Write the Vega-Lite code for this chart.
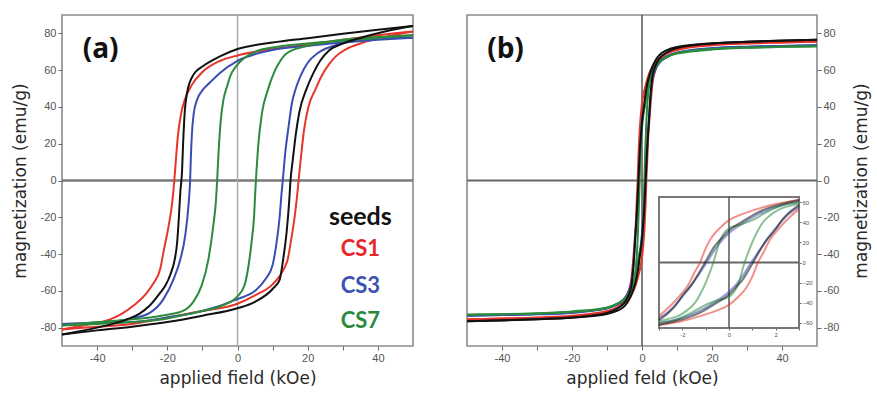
{
"$schema": "https://vega.github.io/schema/vega-lite/v6.json",
"padding": {"left": 10, "top": 13, "right": 5, "bottom": 5},
"config": {
 "view": {"stroke": "#8c8c8c", "strokeWidth": 1.6},
 "axis": {"grid": false, "domain": false, "tickColor": "#666", "tickSize": 4, "tickWidth": 1, "labelFont": "Liberation Sans", "labelFontSize": 11, "labelColor": "#555", "titleFont": "DejaVu Sans", "titleFontSize": 17, "titleFontWeight": "normal", "titleColor": "#2a2a2a", "labelOverlap": false, "labelFlush": false},
 "line": {"strokeWidth": 2}
},
"datasets": {
"a": [
{"s":"CS1","b":"d","H":50,"M":81},{"s":"CS1","b":"d","H":40,"M":79},{"s":"CS1","b":"d","H":30,"M":76.5},{"s":"CS1","b":"d","H":20,"M":74},{"s":"CS1","b":"d","H":10,"M":71.5},{"s":"CS1","b":"d","H":0,"M":68},{"s":"CS1","b":"d","H":-5,"M":65},{"s":"CS1","b":"d","H":-10,"M":59},{"s":"CS1","b":"d","H":-13,"M":52},{"s":"CS1","b":"d","H":-15,"M":44},{"s":"CS1","b":"d","H":-16,"M":37},{"s":"CS1","b":"d","H":-17,"M":24},{"s":"CS1","b":"d","H":-17.6,"M":10},{"s":"CS1","b":"d","H":-18,"M":0},{"s":"CS1","b":"d","H":-18.6,"M":-12},{"s":"CS1","b":"d","H":-19.6,"M":-24.5},{"s":"CS1","b":"d","H":-21,"M":-38},{"s":"CS1","b":"d","H":-22,"M":-48},{"s":"CS1","b":"d","H":-24,"M":-56},{"s":"CS1","b":"d","H":-25.8,"M":-61},{"s":"CS1","b":"d","H":-29.6,"M":-68},{"s":"CS1","b":"d","H":-33,"M":-72.5},{"s":"CS1","b":"d","H":-36.3,"M":-75.5},{"s":"CS1","b":"d","H":-43,"M":-78.5},{"s":"CS1","b":"d","H":-50,"M":-81},
{"s":"CS1","b":"u","H":-50,"M":-81},{"s":"CS1","b":"u","H":-40,"M":-79.5},{"s":"CS1","b":"u","H":-30,"M":-78},{"s":"CS1","b":"u","H":-20,"M":-74.5},{"s":"CS1","b":"u","H":-10,"M":-71},{"s":"CS1","b":"u","H":0,"M":-67},{"s":"CS1","b":"u","H":5,"M":-62.5},{"s":"CS1","b":"u","H":10,"M":-56.5},{"s":"CS1","b":"u","H":12,"M":-52},{"s":"CS1","b":"u","H":13.5,"M":-47},{"s":"CS1","b":"u","H":14.3,"M":-43},{"s":"CS1","b":"u","H":15.3,"M":-32},{"s":"CS1","b":"u","H":16.2,"M":-21},{"s":"CS1","b":"u","H":17,"M":-8},{"s":"CS1","b":"u","H":17.4,"M":0},{"s":"CS1","b":"u","H":18.2,"M":15},{"s":"CS1","b":"u","H":19,"M":28},{"s":"CS1","b":"u","H":20.2,"M":40},{"s":"CS1","b":"u","H":22.3,"M":50},{"s":"CS1","b":"u","H":24,"M":57},{"s":"CS1","b":"u","H":26,"M":63},{"s":"CS1","b":"u","H":28,"M":67.5},{"s":"CS1","b":"u","H":31,"M":71.5},{"s":"CS1","b":"u","H":35,"M":74.5},{"s":"CS1","b":"u","H":42,"M":78},{"s":"CS1","b":"u","H":50,"M":81},
{"s":"CS3","b":"d","H":50,"M":77.7},{"s":"CS3","b":"d","H":40,"M":76.5},{"s":"CS3","b":"d","H":30,"M":75},{"s":"CS3","b":"d","H":20,"M":73.2},{"s":"CS3","b":"d","H":10,"M":71},{"s":"CS3","b":"d","H":0,"M":65},{"s":"CS3","b":"d","H":-5,"M":58.5},{"s":"CS3","b":"d","H":-8,"M":53},{"s":"CS3","b":"d","H":-10,"M":49},{"s":"CS3","b":"d","H":-11.5,"M":44},{"s":"CS3","b":"d","H":-12.5,"M":36},{"s":"CS3","b":"d","H":-13,"M":25},{"s":"CS3","b":"d","H":-13.3,"M":12},{"s":"CS3","b":"d","H":-13.5,"M":0},{"s":"CS3","b":"d","H":-13.9,"M":-12},{"s":"CS3","b":"d","H":-14.9,"M":-30},{"s":"CS3","b":"d","H":-16.3,"M":-43},{"s":"CS3","b":"d","H":-18.3,"M":-54},{"s":"CS3","b":"d","H":-21.1,"M":-64.5},{"s":"CS3","b":"d","H":-25,"M":-72},{"s":"CS3","b":"d","H":-30,"M":-75},{"s":"CS3","b":"d","H":-35,"M":-76.5},{"s":"CS3","b":"d","H":-50,"M":-78},
{"s":"CS3","b":"u","H":-50,"M":-78},{"s":"CS3","b":"u","H":-40,"M":-77.5},{"s":"CS3","b":"u","H":-30,"M":-77},{"s":"CS3","b":"u","H":-20,"M":-74.5},{"s":"CS3","b":"u","H":-10,"M":-71},{"s":"CS3","b":"u","H":0,"M":-64.5},{"s":"CS3","b":"u","H":5,"M":-60},{"s":"CS3","b":"u","H":8,"M":-53.6},{"s":"CS3","b":"u","H":10,"M":-46},{"s":"CS3","b":"u","H":11,"M":-35.5},{"s":"CS3","b":"u","H":12,"M":-20},{"s":"CS3","b":"u","H":12.5,"M":-8},{"s":"CS3","b":"u","H":12.9,"M":0},{"s":"CS3","b":"u","H":13.6,"M":15},{"s":"CS3","b":"u","H":14.6,"M":30},{"s":"CS3","b":"u","H":15.5,"M":42},{"s":"CS3","b":"u","H":16.6,"M":50},{"s":"CS3","b":"u","H":18,"M":57},{"s":"CS3","b":"u","H":20,"M":64},{"s":"CS3","b":"u","H":23,"M":69.5},{"s":"CS3","b":"u","H":27,"M":73},{"s":"CS3","b":"u","H":32,"M":75.5},{"s":"CS3","b":"u","H":40,"M":77},{"s":"CS3","b":"u","H":50,"M":77.7},
{"s":"CS7","b":"d","H":50,"M":79},{"s":"CS7","b":"d","H":40,"M":77.5},{"s":"CS7","b":"d","H":30,"M":76},{"s":"CS7","b":"d","H":20,"M":74.5},{"s":"CS7","b":"d","H":10,"M":72.3},{"s":"CS7","b":"d","H":5,"M":70},{"s":"CS7","b":"d","H":0,"M":63},{"s":"CS7","b":"d","H":-2,"M":57},{"s":"CS7","b":"d","H":-3,"M":51},{"s":"CS7","b":"d","H":-4,"M":44},{"s":"CS7","b":"d","H":-4.8,"M":32},{"s":"CS7","b":"d","H":-5.4,"M":15},{"s":"CS7","b":"d","H":-5.8,"M":0},{"s":"CS7","b":"d","H":-6.1,"M":-10},{"s":"CS7","b":"d","H":-6.9,"M":-24.6},{"s":"CS7","b":"d","H":-8.3,"M":-43},{"s":"CS7","b":"d","H":-10.2,"M":-57},{"s":"CS7","b":"d","H":-12.6,"M":-66},{"s":"CS7","b":"d","H":-15.4,"M":-70.8},{"s":"CS7","b":"d","H":-20,"M":-73},{"s":"CS7","b":"d","H":-25,"M":-74.5},{"s":"CS7","b":"d","H":-40,"M":-77},{"s":"CS7","b":"d","H":-50,"M":-78.8},
{"s":"CS7","b":"u","H":-50,"M":-78.8},{"s":"CS7","b":"u","H":-40,"M":-78},{"s":"CS7","b":"u","H":-30,"M":-77},{"s":"CS7","b":"u","H":-20,"M":-75},{"s":"CS7","b":"u","H":-15,"M":-73},{"s":"CS7","b":"u","H":-10,"M":-71},{"s":"CS7","b":"u","H":-5,"M":-68.5},{"s":"CS7","b":"u","H":0,"M":-63},{"s":"CS7","b":"u","H":2,"M":-57},{"s":"CS7","b":"u","H":3,"M":-48},{"s":"CS7","b":"u","H":4,"M":-33.7},{"s":"CS7","b":"u","H":4.7,"M":-20},{"s":"CS7","b":"u","H":5.1,"M":-5},{"s":"CS7","b":"u","H":5.4,"M":5},{"s":"CS7","b":"u","H":5.9,"M":19},{"s":"CS7","b":"u","H":7,"M":37},{"s":"CS7","b":"u","H":8.6,"M":49},{"s":"CS7","b":"u","H":10.4,"M":58.7},{"s":"CS7","b":"u","H":11.4,"M":62.5},{"s":"CS7","b":"u","H":13.3,"M":67.9},{"s":"CS7","b":"u","H":15.2,"M":70.5},{"s":"CS7","b":"u","H":19,"M":72.8},{"s":"CS7","b":"u","H":25,"M":75},{"s":"CS7","b":"u","H":30,"M":76.5},{"s":"CS7","b":"u","H":40,"M":78},{"s":"CS7","b":"u","H":50,"M":79},
{"s":"other","b":"d","H":50,"M":84},{"s":"other","b":"d","H":40,"M":82},{"s":"other","b":"d","H":30,"M":79.8},{"s":"other","b":"d","H":20,"M":77.4},{"s":"other","b":"d","H":10,"M":75},{"s":"other","b":"d","H":0,"M":71.5},{"s":"other","b":"d","H":-5,"M":67.5},{"s":"other","b":"d","H":-10,"M":62},{"s":"other","b":"d","H":-12,"M":59},{"s":"other","b":"d","H":-13,"M":56},{"s":"other","b":"d","H":-14,"M":51},{"s":"other","b":"d","H":-14.6,"M":45},{"s":"other","b":"d","H":-15,"M":38},{"s":"other","b":"d","H":-15.5,"M":20},{"s":"other","b":"d","H":-15.8,"M":5},{"s":"other","b":"d","H":-16.3,"M":-6.5},{"s":"other","b":"d","H":-16.7,"M":-20},{"s":"other","b":"d","H":-17.2,"M":-33.7},{"s":"other","b":"d","H":-18,"M":-44},{"s":"other","b":"d","H":-19.1,"M":-51},{"s":"other","b":"d","H":-20.5,"M":-57},{"s":"other","b":"d","H":-22,"M":-61},{"s":"other","b":"d","H":-25,"M":-68},{"s":"other","b":"d","H":-28,"M":-72.5},{"s":"other","b":"d","H":-31.5,"M":-75.5},{"s":"other","b":"d","H":-40,"M":-80},{"s":"other","b":"d","H":-50,"M":-83.7},
{"s":"other","b":"u","H":-50,"M":-83.7},{"s":"other","b":"u","H":-40,"M":-81.5},{"s":"other","b":"u","H":-30,"M":-79.5},{"s":"other","b":"u","H":-20,"M":-77},{"s":"other","b":"u","H":-10,"M":-73.5},{"s":"other","b":"u","H":0,"M":-69.5},{"s":"other","b":"u","H":5,"M":-66},{"s":"other","b":"u","H":10,"M":-59},{"s":"other","b":"u","H":12,"M":-54},{"s":"other","b":"u","H":13,"M":-43},{"s":"other","b":"u","H":14,"M":-28},{"s":"other","b":"u","H":14.7,"M":-12},{"s":"other","b":"u","H":15.1,"M":0},{"s":"other","b":"u","H":15.8,"M":12},{"s":"other","b":"u","H":16.6,"M":25},{"s":"other","b":"u","H":17.6,"M":37},{"s":"other","b":"u","H":19.7,"M":50},{"s":"other","b":"u","H":21.5,"M":58},{"s":"other","b":"u","H":23.5,"M":65},{"s":"other","b":"u","H":26,"M":70.5},{"s":"other","b":"u","H":30,"M":74.5},{"s":"other","b":"u","H":35,"M":77.5},{"s":"other","b":"u","H":42,"M":81},{"s":"other","b":"u","H":50,"M":84}
],
"b": [
{"s":"CS1","b":"d","H":50,"M":75.5},{"s":"CS1","b":"d","H":40,"M":75},{"s":"CS1","b":"d","H":30,"M":74.5},{"s":"CS1","b":"d","H":20,"M":73.6},{"s":"CS1","b":"d","H":10,"M":71},{"s":"CS1","b":"d","H":7,"M":69},{"s":"CS1","b":"d","H":5,"M":66.5},{"s":"CS1","b":"d","H":4,"M":64.5},{"s":"CS1","b":"d","H":3,"M":62},{"s":"CS1","b":"d","H":2,"M":58},{"s":"CS1","b":"d","H":1.2,"M":53},{"s":"CS1","b":"d","H":0.5,"M":47.5},{"s":"CS1","b":"d","H":0,"M":42},{"s":"CS1","b":"d","H":-0.4,"M":34},{"s":"CS1","b":"d","H":-0.74,"M":25},{"s":"CS1","b":"d","H":-1,"M":14},{"s":"CS1","b":"d","H":-1.24,"M":0},{"s":"CS1","b":"d","H":-1.5,"M":-11},{"s":"CS1","b":"d","H":-1.74,"M":-22},{"s":"CS1","b":"d","H":-2,"M":-30},{"s":"CS1","b":"d","H":-2.3,"M":-38},{"s":"CS1","b":"d","H":-2.6,"M":-45},{"s":"CS1","b":"d","H":-3,"M":-53},{"s":"CS1","b":"d","H":-4,"M":-61},{"s":"CS1","b":"d","H":-5,"M":-65},{"s":"CS1","b":"d","H":-7,"M":-69},{"s":"CS1","b":"d","H":-10,"M":-71.5},{"s":"CS1","b":"d","H":-20,"M":-73.8},{"s":"CS1","b":"d","H":-30,"M":-74.7},{"s":"CS1","b":"d","H":-40,"M":-75.1},{"s":"CS1","b":"d","H":-50,"M":-75.5},
{"s":"CS1","b":"u","H":-50,"M":-75.5},{"s":"CS1","b":"u","H":-40,"M":-75},{"s":"CS1","b":"u","H":-30,"M":-74.5},{"s":"CS1","b":"u","H":-20,"M":-73.6},{"s":"CS1","b":"u","H":-10,"M":-71},{"s":"CS1","b":"u","H":-7,"M":-69},{"s":"CS1","b":"u","H":-5,"M":-66.5},{"s":"CS1","b":"u","H":-4,"M":-64.5},{"s":"CS1","b":"u","H":-3,"M":-62},{"s":"CS1","b":"u","H":-2,"M":-58},{"s":"CS1","b":"u","H":-1.2,"M":-53},{"s":"CS1","b":"u","H":-0.5,"M":-47.5},{"s":"CS1","b":"u","H":0,"M":-42},{"s":"CS1","b":"u","H":0.4,"M":-34},{"s":"CS1","b":"u","H":0.74,"M":-25},{"s":"CS1","b":"u","H":1,"M":-14},{"s":"CS1","b":"u","H":1.24,"M":0},{"s":"CS1","b":"u","H":1.5,"M":11},{"s":"CS1","b":"u","H":1.74,"M":22},{"s":"CS1","b":"u","H":2,"M":30},{"s":"CS1","b":"u","H":2.3,"M":38},{"s":"CS1","b":"u","H":2.6,"M":45},{"s":"CS1","b":"u","H":3,"M":53},{"s":"CS1","b":"u","H":4,"M":61},{"s":"CS1","b":"u","H":5,"M":65},{"s":"CS1","b":"u","H":7,"M":69},{"s":"CS1","b":"u","H":10,"M":71.5},{"s":"CS1","b":"u","H":20,"M":73.8},{"s":"CS1","b":"u","H":30,"M":74.7},{"s":"CS1","b":"u","H":40,"M":75.1},{"s":"CS1","b":"u","H":50,"M":75.5},
{"s":"CS3","b":"d","H":50,"M":73.5},{"s":"CS3","b":"d","H":40,"M":73.2},{"s":"CS3","b":"d","H":30,"M":72.6},{"s":"CS3","b":"d","H":20,"M":71.5},{"s":"CS3","b":"d","H":10,"M":69.5},{"s":"CS3","b":"d","H":7,"M":67.5},{"s":"CS3","b":"d","H":5,"M":65},{"s":"CS3","b":"d","H":4,"M":63},{"s":"CS3","b":"d","H":3,"M":60},{"s":"CS3","b":"d","H":2.26,"M":56.5},{"s":"CS3","b":"d","H":1.26,"M":48},{"s":"CS3","b":"d","H":0.6,"M":39},{"s":"CS3","b":"d","H":0,"M":29},{"s":"CS3","b":"d","H":-0.3,"M":22},{"s":"CS3","b":"d","H":-0.6,"M":13},{"s":"CS3","b":"d","H":-0.95,"M":0},{"s":"CS3","b":"d","H":-1.3,"M":-12},{"s":"CS3","b":"d","H":-1.6,"M":-22.5},{"s":"CS3","b":"d","H":-2,"M":-34},{"s":"CS3","b":"d","H":-2.3,"M":-42},{"s":"CS3","b":"d","H":-2.6,"M":-49},{"s":"CS3","b":"d","H":-3,"M":-55},{"s":"CS3","b":"d","H":-4,"M":-61},{"s":"CS3","b":"d","H":-5,"M":-64},{"s":"CS3","b":"d","H":-7,"M":-67},{"s":"CS3","b":"d","H":-10,"M":-69.5},{"s":"CS3","b":"d","H":-20,"M":-72},{"s":"CS3","b":"d","H":-30,"M":-72.8},{"s":"CS3","b":"d","H":-40,"M":-73.2},{"s":"CS3","b":"d","H":-50,"M":-73.5},
{"s":"CS3","b":"u","H":-50,"M":-73.5},{"s":"CS3","b":"u","H":-40,"M":-73.2},{"s":"CS3","b":"u","H":-30,"M":-72.6},{"s":"CS3","b":"u","H":-20,"M":-71.5},{"s":"CS3","b":"u","H":-10,"M":-69.5},{"s":"CS3","b":"u","H":-7,"M":-67.5},{"s":"CS3","b":"u","H":-5,"M":-65},{"s":"CS3","b":"u","H":-4,"M":-63},{"s":"CS3","b":"u","H":-3,"M":-60},{"s":"CS3","b":"u","H":-2.26,"M":-56.5},{"s":"CS3","b":"u","H":-1.26,"M":-48},{"s":"CS3","b":"u","H":-0.6,"M":-39},{"s":"CS3","b":"u","H":0,"M":-29},{"s":"CS3","b":"u","H":0.3,"M":-22},{"s":"CS3","b":"u","H":0.6,"M":-13},{"s":"CS3","b":"u","H":0.95,"M":0},{"s":"CS3","b":"u","H":1.3,"M":12},{"s":"CS3","b":"u","H":1.6,"M":22.5},{"s":"CS3","b":"u","H":2,"M":34},{"s":"CS3","b":"u","H":2.3,"M":42},{"s":"CS3","b":"u","H":2.6,"M":49},{"s":"CS3","b":"u","H":3,"M":55},{"s":"CS3","b":"u","H":4,"M":61},{"s":"CS3","b":"u","H":5,"M":64},{"s":"CS3","b":"u","H":7,"M":67},{"s":"CS3","b":"u","H":10,"M":69.5},{"s":"CS3","b":"u","H":20,"M":72},{"s":"CS3","b":"u","H":30,"M":72.8},{"s":"CS3","b":"u","H":40,"M":73.2},{"s":"CS3","b":"u","H":50,"M":73.5},
{"s":"CS7","b":"d","H":50,"M":73},{"s":"CS7","b":"d","H":40,"M":72.7},{"s":"CS7","b":"d","H":30,"M":72.2},{"s":"CS7","b":"d","H":20,"M":71.2},{"s":"CS7","b":"d","H":10,"M":69},{"s":"CS7","b":"d","H":7,"M":67},{"s":"CS7","b":"d","H":5,"M":64.5},{"s":"CS7","b":"d","H":4,"M":62.5},{"s":"CS7","b":"d","H":3,"M":60},{"s":"CS7","b":"d","H":2.26,"M":56.7},{"s":"CS7","b":"d","H":1.54,"M":49},{"s":"CS7","b":"d","H":1,"M":42},{"s":"CS7","b":"d","H":0.5,"M":37.5},{"s":"CS7","b":"d","H":0,"M":34},{"s":"CS7","b":"d","H":-0.39,"M":21.7},{"s":"CS7","b":"d","H":-0.67,"M":0},{"s":"CS7","b":"d","H":-0.96,"M":-18},{"s":"CS7","b":"d","H":-1.2,"M":-30},{"s":"CS7","b":"d","H":-1.46,"M":-40},{"s":"CS7","b":"d","H":-1.8,"M":-47.5},{"s":"CS7","b":"d","H":-2.17,"M":-53},{"s":"CS7","b":"d","H":-2.6,"M":-56},{"s":"CS7","b":"d","H":-3,"M":-58},{"s":"CS7","b":"d","H":-4,"M":-62},{"s":"CS7","b":"d","H":-5,"M":-64.5},{"s":"CS7","b":"d","H":-7,"M":-67},{"s":"CS7","b":"d","H":-10,"M":-69.3},{"s":"CS7","b":"d","H":-20,"M":-71.5},{"s":"CS7","b":"d","H":-30,"M":-72.3},{"s":"CS7","b":"d","H":-40,"M":-72.7},{"s":"CS7","b":"d","H":-50,"M":-73},
{"s":"CS7","b":"u","H":-50,"M":-73},{"s":"CS7","b":"u","H":-40,"M":-72.7},{"s":"CS7","b":"u","H":-30,"M":-72.2},{"s":"CS7","b":"u","H":-20,"M":-71.2},{"s":"CS7","b":"u","H":-10,"M":-69},{"s":"CS7","b":"u","H":-7,"M":-67},{"s":"CS7","b":"u","H":-5,"M":-64.5},{"s":"CS7","b":"u","H":-4,"M":-62.5},{"s":"CS7","b":"u","H":-3,"M":-60},{"s":"CS7","b":"u","H":-2.26,"M":-56.7},{"s":"CS7","b":"u","H":-1.54,"M":-49},{"s":"CS7","b":"u","H":-1,"M":-42},{"s":"CS7","b":"u","H":-0.5,"M":-37.5},{"s":"CS7","b":"u","H":0,"M":-34},{"s":"CS7","b":"u","H":0.39,"M":-21.7},{"s":"CS7","b":"u","H":0.67,"M":0},{"s":"CS7","b":"u","H":0.96,"M":18},{"s":"CS7","b":"u","H":1.2,"M":30},{"s":"CS7","b":"u","H":1.46,"M":40},{"s":"CS7","b":"u","H":1.8,"M":47.5},{"s":"CS7","b":"u","H":2.17,"M":53},{"s":"CS7","b":"u","H":2.6,"M":56},{"s":"CS7","b":"u","H":3,"M":58},{"s":"CS7","b":"u","H":4,"M":62},{"s":"CS7","b":"u","H":5,"M":64.5},{"s":"CS7","b":"u","H":7,"M":67},{"s":"CS7","b":"u","H":10,"M":69.3},{"s":"CS7","b":"u","H":20,"M":71.5},{"s":"CS7","b":"u","H":30,"M":72.3},{"s":"CS7","b":"u","H":40,"M":72.7},{"s":"CS7","b":"u","H":50,"M":73},
{"s":"other","b":"d","H":50,"M":76.5},{"s":"other","b":"d","H":40,"M":76.1},{"s":"other","b":"d","H":30,"M":75.5},{"s":"other","b":"d","H":20,"M":74.6},{"s":"other","b":"d","H":10,"M":72.6},{"s":"other","b":"d","H":7,"M":70.8},{"s":"other","b":"d","H":5,"M":68.3},{"s":"other","b":"d","H":4,"M":65.8},{"s":"other","b":"d","H":3,"M":62},{"s":"other","b":"d","H":2.26,"M":58},{"s":"other","b":"d","H":1.8,"M":55},{"s":"other","b":"d","H":1.26,"M":50},{"s":"other","b":"d","H":0.6,"M":41},{"s":"other","b":"d","H":0,"M":31.7},{"s":"other","b":"d","H":-0.3,"M":24.5},{"s":"other","b":"d","H":-0.6,"M":16.7},{"s":"other","b":"d","H":-1.03,"M":0},{"s":"other","b":"d","H":-1.3,"M":-11},{"s":"other","b":"d","H":-1.6,"M":-21.7},{"s":"other","b":"d","H":-2,"M":-33},{"s":"other","b":"d","H":-2.3,"M":-43},{"s":"other","b":"d","H":-2.6,"M":-50},{"s":"other","b":"d","H":-3,"M":-57},{"s":"other","b":"d","H":-4,"M":-63},{"s":"other","b":"d","H":-5,"M":-66.5},{"s":"other","b":"d","H":-7,"M":-69.5},{"s":"other","b":"d","H":-10,"M":-72},{"s":"other","b":"d","H":-20,"M":-74.5},{"s":"other","b":"d","H":-30,"M":-75.4},{"s":"other","b":"d","H":-40,"M":-76},{"s":"other","b":"d","H":-50,"M":-76.5},
{"s":"other","b":"u","H":-50,"M":-76.5},{"s":"other","b":"u","H":-40,"M":-76.1},{"s":"other","b":"u","H":-30,"M":-75.5},{"s":"other","b":"u","H":-20,"M":-74.6},{"s":"other","b":"u","H":-10,"M":-72.6},{"s":"other","b":"u","H":-7,"M":-70.8},{"s":"other","b":"u","H":-5,"M":-68.3},{"s":"other","b":"u","H":-4,"M":-65.8},{"s":"other","b":"u","H":-3,"M":-62},{"s":"other","b":"u","H":-2.26,"M":-58},{"s":"other","b":"u","H":-1.8,"M":-55},{"s":"other","b":"u","H":-1.26,"M":-50},{"s":"other","b":"u","H":-0.6,"M":-41},{"s":"other","b":"u","H":0,"M":-31.7},{"s":"other","b":"u","H":0.3,"M":-24.5},{"s":"other","b":"u","H":0.6,"M":-16.7},{"s":"other","b":"u","H":1.03,"M":0},{"s":"other","b":"u","H":1.3,"M":11},{"s":"other","b":"u","H":1.6,"M":21.7},{"s":"other","b":"u","H":2,"M":33},{"s":"other","b":"u","H":2.3,"M":43},{"s":"other","b":"u","H":2.6,"M":50},{"s":"other","b":"u","H":3,"M":57},{"s":"other","b":"u","H":4,"M":63},{"s":"other","b":"u","H":5,"M":66.5},{"s":"other","b":"u","H":7,"M":69.5},{"s":"other","b":"u","H":10,"M":72},{"s":"other","b":"u","H":20,"M":74.5},{"s":"other","b":"u","H":30,"M":75.4},{"s":"other","b":"u","H":40,"M":76},{"s":"other","b":"u","H":50,"M":76.5}
],
"one": [{}]
},
"spacing": 44,
"resolve": {"scale": {"x": "independent", "y": "independent"}},
"hconcat": [
{
 "width": 351, "height": 331,
 "layer": [
  {"data": {"name": "one"},
   "mark": {"type": "rule", "color": "#7a7a7a", "strokeWidth": 2.5},
   "encoding": {"y": {"datum": 0, "type": "quantitative", "scale": {"domain": [-90, 90], "nice": false, "zero": false},
     "axis": {"orient": "left", "values": [-80,-70,-60,-50,-40,-30,-20,-10,0,10,20,30,40,50,60,70,80], "labelExpr": "datum.value % 20 === 0 ? '' + datum.value : ''", "title": "magnetization (emu/g)", "titlePadding": 11}}}},
  {"data": {"name": "one"},
   "mark": {"type": "rule", "color": "#aaaaaa", "strokeWidth": 1.5},
   "encoding": {"x": {"datum": 0, "type": "quantitative", "scale": {"domain": [-50, 50], "nice": false, "zero": false},
     "axis": {"orient": "bottom", "values": [-40,-30,-20,-10,0,10,20,30,40], "labelExpr": "datum.value % 20 === 0 ? '' + datum.value : ''", "title": "applied field (kOe)", "titlePadding": 7}}}},
  {"data": {"name": "a"},
   "mark": {"type": "line", "strokeWidth": 2, "interpolate": "monotone"},
   "encoding": {
    "x": {"field": "H", "type": "quantitative", "scale": {"domain": [-50, 50], "nice": false, "zero": false}},
    "y": {"field": "M", "type": "quantitative", "scale": {"domain": [-90, 90], "nice": false, "zero": false}},
    "color": {"field": "s", "type": "nominal", "scale": {"domain": ["CS1", "CS3", "CS7", "other"], "range": ["#e8352b", "#3a4db3", "#2c8c3c", "#111111"]}, "legend": null},
    "detail": {"field": "b"}
   }},
  {"data": {"name": "one"},
   "mark": {"type": "text", "font": "Open Sans", "fontWeight": "bold", "fontSize": 28, "align": "center", "baseline": "alphabetic", "color": "#111"},
   "encoding": {"x": {"datum": -39, "type": "quantitative"}, "y": {"datum": 66.5, "type": "quantitative"}, "text": {"value": "(a)"}}},
  {"data": {"name": "one"},
   "mark": {"type": "text", "font": "Lato", "fontWeight": "bold", "fontSize": 25, "align": "center", "baseline": "alphabetic", "color": "#111"},
   "encoding": {"x": {"datum": 35, "type": "quantitative"}, "y": {"datum": -24, "type": "quantitative"}, "text": {"value": "seeds"}}},
  {"data": {"name": "one"},
   "mark": {"type": "text", "font": "Lato", "fontWeight": "bold", "fontSize": 22, "align": "center", "baseline": "alphabetic", "color": "#e8262a"},
   "encoding": {"x": {"datum": 35, "type": "quantitative"}, "y": {"datum": -41, "type": "quantitative"}, "text": {"value": "CS1"}}},
  {"data": {"name": "one"},
   "mark": {"type": "text", "font": "Lato", "fontWeight": "bold", "fontSize": 22, "align": "center", "baseline": "alphabetic", "color": "#3b52b0"},
   "encoding": {"x": {"datum": 35, "type": "quantitative"}, "y": {"datum": -61, "type": "quantitative"}, "text": {"value": "CS3"}}},
  {"data": {"name": "one"},
   "mark": {"type": "text", "font": "Lato", "fontWeight": "bold", "fontSize": 22, "align": "center", "baseline": "alphabetic", "color": "#2a8a3c"},
   "encoding": {"x": {"datum": 35, "type": "quantitative"}, "y": {"datum": -80, "type": "quantitative"}, "text": {"value": "CS7"}}}
 ]
},
{
 "width": 350, "height": 331,
 "resolve": {"scale": {"x": "independent", "y": "independent"}, "axis": {"x": "independent", "y": "independent"}},
 "layer": [
  {
   "layer": [
    {"data": {"name": "one"},
     "mark": {"type": "rule", "color": "#666666", "strokeWidth": 2.2},
     "encoding": {"y": {"datum": 0, "type": "quantitative", "scale": {"domain": [-90, 90], "nice": false, "zero": false},
       "axis": {"orient": "right", "values": [-80,-70,-60,-50,-40,-30,-20,-10,0,10,20,30,40,50,60,70,80], "labelExpr": "datum.value % 20 === 0 ? '' + datum.value : ''", "title": "magnetization (emu/g)", "titlePadding": 32, "titleAngle": 270}}}},
    {"data": {"name": "one"},
     "mark": {"type": "rule", "color": "#555555", "strokeWidth": 1.5},
     "encoding": {"x": {"datum": 0, "type": "quantitative", "scale": {"domain": [-50, 50], "nice": false, "zero": false},
       "axis": {"orient": "bottom", "values": [-40,-30,-20,-10,0,10,20,30,40], "labelExpr": "datum.value % 20 === 0 ? '' + datum.value : ''", "title": "applied feld (kOe)", "titlePadding": 7}}}},
    {"data": {"name": "b"},
     "mark": {"type": "line", "strokeWidth": 2, "interpolate": "monotone"},
     "encoding": {
      "x": {"field": "H", "type": "quantitative", "scale": {"domain": [-50, 50], "nice": false, "zero": false}},
      "y": {"field": "M", "type": "quantitative", "scale": {"domain": [-90, 90], "nice": false, "zero": false}},
      "color": {"field": "s", "type": "nominal", "scale": {"domain": ["CS1", "CS3", "CS7", "other"], "range": ["#e8352b", "#3a4db3", "#2c8c3c", "#111111"]}, "legend": null},
      "detail": {"field": "b"}
     }},
    {"data": {"name": "one"},
     "mark": {"type": "text", "font": "Open Sans", "fontWeight": "bold", "fontSize": 28, "align": "center", "baseline": "alphabetic", "color": "#111"},
     "encoding": {"x": {"datum": -39, "type": "quantitative"}, "y": {"datum": 66.5, "type": "quantitative"}, "text": {"value": "(b)"}}}
   ]
  },
  {
   "layer": [
    {"data": {"name": "one"},
     "mark": {"type": "rect", "fill": "white", "stroke": "#777777", "strokeWidth": 2},
     "encoding": {
      "x": {"datum": -3, "type": "quantitative", "scale": {"domain": [-3, 3], "range": [192, 332], "nice": false, "zero": false},
        "axis": {"orient": "bottom", "offset": -18, "values": [-3,-2,-1,0,1,2,3], "labelExpr": "datum.value % 2 === 0 ? '' + datum.value : ''", "tickSize": 2, "labelFontSize": 6, "labelPadding": 1, "title": null}},
      "x2": {"datum": 3},
      "y": {"datum": -65, "type": "quantitative", "scale": {"domain": [-65, 65], "range": [313, 182], "nice": false, "zero": false},
        "axis": {"orient": "right", "offset": -18, "values": [-60,-40,-20,0,20,40,60], "tickSize": 2, "labelFontSize": 6, "labelPadding": 1, "title": null}},
      "y2": {"datum": 65}
     }},
    {"data": {"name": "one"},
     "mark": {"type": "rule", "color": "#666666", "strokeWidth": 2},
     "encoding": {"x": {"datum": -3, "type": "quantitative"}, "x2": {"datum": 3}, "y": {"datum": 0, "type": "quantitative"}}},
    {"data": {"name": "one"},
     "mark": {"type": "rule", "color": "#555555", "strokeWidth": 1.5},
     "encoding": {"x": {"datum": 0, "type": "quantitative"}, "y": {"datum": -65, "type": "quantitative"}, "y2": {"datum": 65}}},
    {"data": {"name": "b"},
     "transform": [{"filter": "datum.H >= -3 && datum.H <= 3"}],
     "mark": {"type": "line", "strokeWidth": 2, "strokeOpacity": 0.55, "interpolate": "monotone"},
     "encoding": {
      "x": {"field": "H", "type": "quantitative"},
      "y": {"field": "M", "type": "quantitative"},
      "color": {"field": "s", "type": "nominal", "legend": null},
      "detail": {"field": "b"}
     }}
   ]
  }
 ]
}
]
}
